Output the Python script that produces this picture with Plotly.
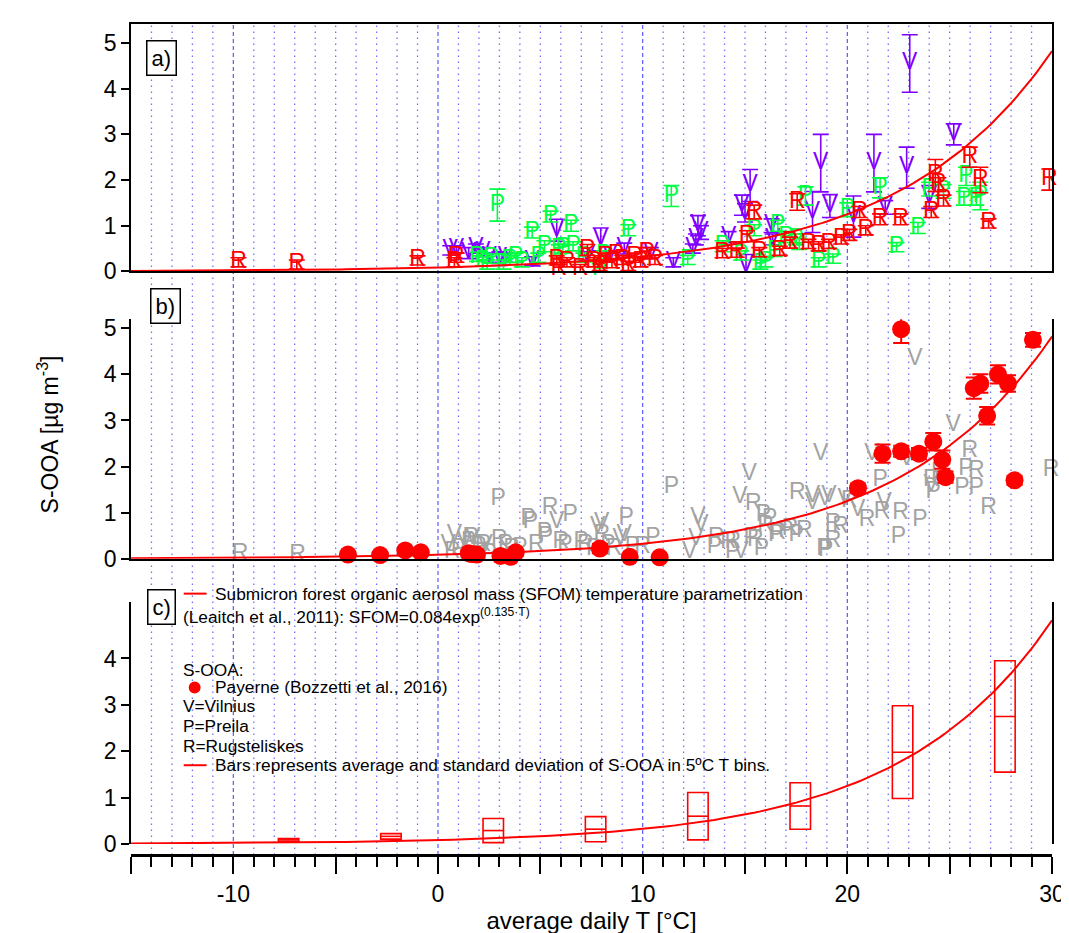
import numpy as np
import plotly.graph_objects as go

# ---------------- data ----------------
# Panel a: Vilnius (V), Preila (P), Rugsteliskes (R) S-OOA with error bars
VA_T = [0.6, 0.9, 1.5, 1.85, 2.2, 2.5, 3.0, 3.3, 4.6, 5.8, 7.3, 7.95, 8.4, 9.1, 10.4, 11.5, 12.45, 12.6, 12.7, 12.85,
        14.2, 14.85, 15.0, 15.25, 15.05, 16.3, 16.35, 18.3, 18.7, 19.15, 20.3, 21.3, 21.85, 22.9, 23.05, 24.0, 25.2]
VA_Y = [0.46, 0.48, 0.4, 0.5, 0.42, 0.3, 0.28, 0.3, 0.22, 0.9, 0.33, 0.7, 0.35, 0.5, 0.4, 0.2, 0.5, 0.7, 1.0, 0.85,
        0.75, 1.45, 1.28, 1.88, 0.12, 1.0, 0.7, 1.3, 2.37, 1.43, 1.2, 2.37, 1.4, 2.27, 4.55, 1.63, 3.0]
VA_E = [0.1, 0.08, 0.12, 0.1, 0.1, 0.1, 0.15, 0.1, 0.1, 0.24, 0.1, 0.25, 0.1, 0.12, 0.12, 0.1, 0.1, 0.12, 0.22, 0.15,
        0.12, 0.22, 0.2, 0.35, 0.25, 0.15, 0.12, 0.45, 0.63, 0.25, 0.45, 0.63, 0.15, 0.45, 0.63, 0.25, 0.23]

PA_T = [1.9, 2.2, 2.4, 2.6, 2.9, 3.2, 3.5, 3.8, 4.1, 4.6, 4.9, 5.2, 5.5, 5.9, 6.1, 6.5, 6.6, 7.1, 7.9, 8.1, 9.3,
        11.4, 12.2, 13.9, 14.8, 15.45, 15.75, 16.0, 16.45, 16.6, 17.0, 17.5, 17.65, 17.95, 18.6, 19.3, 20.0, 21.6,
        22.4, 23.45, 24.0, 24.7, 25.7, 25.8, 26.3, 26.5]
PA_Y = [0.32, 0.22, 0.15, 0.28, 1.45, 0.15, 0.25, 0.3, 0.2, 0.85, 0.3, 0.55, 1.2, 0.48, 0.5, 1.0, 0.55, 0.3, 0.05, 0.35, 0.9,
        1.65, 0.25, 0.55, 0.35, 0.9, 0.15, 0.2, 0.45, 1.0, 0.75, 0.7, 0.6, 1.65, 0.2, 0.28, 1.35, 1.83,
        0.53, 0.95, 1.8, 1.75, 1.6, 2.08, 1.6, 1.65]
PA_E = [0.1, 0.1, 0.1, 0.1, 0.35, 0.1, 0.1, 0.1, 0.1, 0.12, 0.1, 0.12, 0.12, 0.1, 0.1, 0.12, 0.1, 0.1, 0.12, 0.1, 0.12,
        0.23, 0.1, 0.12, 0.1, 0.12, 0.1, 0.1, 0.12, 0.12, 0.12, 0.12, 0.12, 0.2, 0.1, 0.1, 0.15, 0.22,
        0.1, 0.12, 0.15, 0.15, 0.15, 0.2, 0.15, 0.3]

RA_T = [-9.75, -6.9, -1.0, 0.8, 0.9, 5.8, 5.9, 6.3, 6.95, 7.3, 7.6, 7.9, 8.2, 8.5, 8.7, 9.0, 9.3, 9.6, 9.9, 10.2, 10.6,
        13.9, 14.6, 15.1, 15.45, 15.7, 16.7, 17.2, 17.55, 18.1, 18.6, 19.1, 19.7, 20.1, 20.6, 20.9, 21.6, 22.6,
        24.1, 24.3, 24.45, 24.7, 25.98, 26.5, 26.9, 29.87]
RA_Y = [0.2, 0.15, 0.24, 0.2, 0.3, 0.24, 0.05, 0.2, 0.05, 0.47, 0.2, 0.12, 0.3, 0.18, 0.35, 0.25, 0.12, 0.3, 0.2, 0.4, 0.25,
        0.4, 0.41, 0.77, 1.3, 0.42, 0.45, 0.63, 1.52, 0.6, 0.55, 0.6, 0.7, 0.8, 1.3, 0.9, 1.14, 1.14,
        1.3, 2.1, 1.9, 1.55, 2.5, 2.0, 1.05, 2.01]
RA_E = [0.1, 0.1, 0.1, 0.1, 0.1, 0.1, 0.1, 0.1, 0.1, 0.12, 0.1, 0.1, 0.1, 0.1, 0.1, 0.1, 0.1, 0.1, 0.1, 0.12, 0.1,
        0.1, 0.1, 0.12, 0.15, 0.1, 0.1, 0.12, 0.18, 0.1, 0.1, 0.1, 0.1, 0.12, 0.12, 0.1, 0.12, 0.12,
        0.12, 0.35, 0.15, 0.12, 0.22, 0.28, 0.1, 0.23]

# Panel b: grey letters (same sites) and Payerne S-OOA
VB_T = [0.5, 0.8, 1.3, 1.7, 2.3, 5.8, 7.8, 8.0, 8.9, 9.1, 12.3, 12.6, 12.7, 12.85, 14.75, 14.8, 15.2, 18.3, 18.3, 18.7,
        18.9, 19.1, 19.9, 20.5, 21.2, 21.8, 22.9, 23.3, 24.1, 25.17]
VB_Y = [0.3, 0.5, 0.35, 0.45, 0.3, 0.79, 0.69, 0.76, 0.43, 0.5, 0.14, 0.43, 0.87, 0.72, 1.33, 0.15, 1.84, 1.2, 1.35, 2.27,
        1.3, 1.35, 1.3, 1.05, 2.27, 1.2, 2.16, 4.33, 1.6, 2.89]
PB_T = [1.0, 1.5, 2.0, 2.5, 2.94, 3.3, 4.0, 4.4, 4.51, 5.2, 5.25, 6.2, 6.46, 7.0, 7.6, 8.3, 9.2, 9.5, 10.5, 11.4, 13.5,
        14.4, 15.3, 15.8, 15.9, 16.2, 16.5, 17.0, 17.5, 18.85, 18.94, 21.6, 22.5, 23.55, 24.2, 25.6, 25.8, 26.3]
PB_Y = [0.2, 0.35, 0.25, 0.1, 1.3, 0.3, 0.22, 0.86, 0.79, 0.55, 0.47, 0.3, 0.95, 0.35, 0.2, 0.3, 0.87, 0.25, 0.45, 1.55, 0.25,
        0.15, 0.45, 0.2, 0.95, 0.85, 0.5, 0.6, 0.5, 0.2, 0.18, 1.7, 0.47, 0.84, 1.45, 1.52, 1.95, 1.52]
RB_T = [-9.67, -6.86, 0.7, 1.6, 2.2, 3.0, 3.6, 4.8, 5.48, 6.0, 7.2, 8.0, 8.6, 10.0, 13.6, 14.2, 14.4, 15.4, 15.5, 16.0,
        16.6, 17.2, 17.56, 17.9, 19.3, 19.3, 19.67, 20.1, 20.96, 21.7, 22.6, 24.1, 24.5, 25.98, 26.3, 26.9, 29.95]
RB_Y = [0.1, 0.08, 0.15, 0.45, 0.3, 0.4, 0.2, 0.3, 1.1, 0.35, 0.3, 0.5, 0.2, 0.25, 0.45, 0.35, 0.35, 1.19, 0.4, 0.7,
        0.55, 0.65, 1.41, 0.6, 0.37, 0.75, 0.69, 1.24, 0.83, 1.0, 0.98, 1.7, 1.85, 2.34, 1.9, 1.1, 1.91]

PAY_T = [-4.4, -2.83, -1.6, -0.84, 1.5, 1.65, 1.9, 3.05, 3.55, 3.8, 7.91, 9.37, 10.83, 20.52, 21.72, 22.63, 22.63,
         23.5, 24.2, 24.64, 24.8, 26.18, 26.5, 26.83, 27.36, 27.85, 28.17, 29.07]
PAY_Y = [0.09, 0.08, 0.18, 0.14, 0.12, 0.1, 0.09, 0.06, 0.04, 0.14, 0.22, 0.04, 0.03, 1.53, 2.28, 2.33, 4.98,
         2.28, 2.54, 2.15, 1.77, 3.7, 3.8, 3.1, 4.0, 3.8, 1.7, 4.75]
PAY_E = [0.03, 0.03, 0.05, 0.03, 0.03, 0.03, 0.03, 0.03, 0.03, 0.03, 0.1, 0.03, 0.03, 0.1, 0.2, 0.12, 0.3,
         0.12, 0.19, 0.2, 0.12, 0.23, 0.2, 0.19, 0.2, 0.18, 0.1, 0.15]

# Panel c: 5 degC T-bin statistics
BIN_T = [-7.3, -2.3, 2.7, 7.7, 12.7, 17.7, 22.7, 27.7]
BIN_MEAN = [0.09, 0.165, 0.29, 0.32, 0.6, 0.82, 1.98, 2.75]
BIN_SD = [0.03, 0.06, 0.26, 0.27, 0.51, 0.5, 1.0, 1.2]

# SFOM parametrization (Leaitch et al., 2011)
SFOM_A = 0.084
SFOM_B = 0.135
T_RANGE = [-15, 30]

# ---------------- layout helpers ----------------
W, H = 1069, 933
ML, MR, MT, MB = 123, 20, 14, 86
PW, PH = W - ML - MR, H - MT - MB
FONT = "Liberation Sans, Arial, sans-serif"


def pxx(px):
    return (px - ML) / PW


def pxy(py):
    return (H - MB - py) / PH


V_COL, P_COL, R_COL, GREY = "#8000ff", "#00ff40", "#ff0000", "#a3a3a3"

fig = go.Figure()

T_curve = np.linspace(T_RANGE[0], T_RANGE[1], 181)
SFOM = SFOM_A * np.exp(SFOM_B * T_curve)


def letters(x, y, letter, color, xa, ya, err=None, size=23):
    kw = {}
    if err is not None:
        kw["error_y"] = dict(type="data", array=err, color=color, thickness=1.6, width=8)
    return go.Scatter(x=x, y=y, mode="text", text=[letter] * len(x), textposition="middle center",
                      textfont=dict(family=FONT, size=size, color=color), xaxis=xa, yaxis=ya,
                      showlegend=False, hoverinfo="skip", cliponaxis=False, **kw)


# panel a
fig.add_trace(letters(VA_T, VA_Y, "V", V_COL, "x", "y", VA_E))
fig.add_trace(letters(PA_T, PA_Y, "P", P_COL, "x", "y", PA_E))
fig.add_trace(letters(RA_T, RA_Y, "R", R_COL, "x", "y", RA_E))
fig.add_trace(go.Scatter(x=T_curve, y=SFOM, mode="lines", line=dict(color="red", width=2), xaxis="x", yaxis="y",
                         showlegend=False))

# panel b
fig.add_trace(letters(VB_T, VB_Y, "V", GREY, "x2", "y2", size=23))
fig.add_trace(letters(PB_T, PB_Y, "P", GREY, "x2", "y2", size=23))
fig.add_trace(letters(RB_T, RB_Y, "R", GREY, "x2", "y2", size=23))
fig.add_trace(go.Scatter(x=T_curve, y=SFOM, mode="lines", line=dict(color="red", width=2), xaxis="x2", yaxis="y2",
                         showlegend=False))
fig.add_trace(go.Scatter(x=PAY_T, y=PAY_Y, mode="markers", marker=dict(color="red", size=18),
                         error_y=dict(type="data", array=PAY_E, color="red", thickness=2, width=8),
                         xaxis="x2", yaxis="y2", showlegend=False, cliponaxis=False))

# panel c
fig.add_trace(go.Scatter(x=T_curve, y=SFOM, mode="lines", line=dict(color="red", width=2), xaxis="x3", yaxis="y3",
                         showlegend=False))
fig.add_trace(go.Bar(x=BIN_T, y=[2 * s for s in BIN_SD], base=[m - s for m, s in zip(BIN_MEAN, BIN_SD)],
                     width=1.0, marker=dict(color="rgba(0,0,0,0)", line=dict(color="red", width=1.6)),
                     xaxis="x3", yaxis="y3", showlegend=False))
fig.add_trace(go.Scatter(x=BIN_T, y=BIN_MEAN, mode="markers", marker=dict(size=1, color="red"),
                         error_x=dict(type="constant", value=0.5, width=0, thickness=1.6, color="red"),
                         xaxis="x3", yaxis="y3", showlegend=False))

# ---------------- axes ----------------
tick_font = dict(family=FONT, size=23, color="black")
common_x = dict(range=T_RANGE, showgrid=False, zeroline=False, showticklabels=False, ticks="")
fig.update_layout(
    xaxis=dict(**common_x, anchor="y", showline=True, linecolor="black", linewidth=2, mirror=True),
    xaxis2=dict(**common_x, anchor="y2", matches="x", showline=True, linecolor="black", linewidth=2),
    xaxis3=dict(range=T_RANGE, matches="x", anchor="free", position=0, showgrid=False, zeroline=False,
                showline=True, linecolor="black", linewidth=3, ticks="outside", ticklen=17, tickwidth=2,
                tickcolor="black", tickmode="array", tickvals=list(range(-15, 31, 5)),
                ticktext=[str(v) if v % 10 == 0 else " " for v in range(-15, 31, 5)],
                tickfont=tick_font,
                minor=dict(tickmode="linear", tick0=0, dtick=1, ticks="outside", ticklen=10, tickwidth=1.5,
                           tickcolor="black", showgrid=False),
                title=dict(text="average daily T [°C]", font=dict(family=FONT, size=24, color="black"), standoff=6)),
    yaxis=dict(domain=[pxy(262), 1.0], range=[0, (262 - 14) / 45.8], anchor="x", showgrid=False, zeroline=False,
               showline=True, linecolor="black", linewidth=1.5, mirror=True, ticks="outside", ticklen=8,
               tickwidth=1.5, tickcolor="black", dtick=1, tickfont=tick_font),
    yaxis2=dict(domain=[pxy(550), pxy(310)], range=[0, 240 / 46.2], anchor="x2", showgrid=False, zeroline=False,
                showline=True, linecolor="black", linewidth=1.5, mirror=True, ticks="outside", ticklen=8,
                tickwidth=1.5, tickcolor="black", dtick=1, tickfont=tick_font),
    yaxis3=dict(domain=[pxy(836), pxy(593)], range=[0, 243 / 46.5], anchor="x3", showgrid=False, zeroline=False,
                showline=True, linecolor="black", linewidth=1.5, mirror=True, ticks="outside", ticklen=8,
                tickwidth=1.5, tickcolor="black", tickmode="array", tickvals=[0, 1, 2, 3, 4], tickfont=tick_font),
)

# ---------------- grid (vertical) ----------------
shapes = []
for t in range(T_RANGE[0] + 1, T_RANGE[1]):
    major = (t % 10 == 0)
    shapes.append(dict(type="line", xref="x", yref="paper", x0=t, x1=t, y0=0, y1=1, layer="below",
                       line=dict(color="#5a5aff" if major else "#7070ff", width=1.2 if major else 1.3,
                                 dash="4px,3px" if major else "1.5px,4.5px")))

# legend decorations
shapes.append(dict(type="line", xref="paper", yref="paper", x0=pxx(176), x1=pxx(199), y0=pxy(585), y1=pxy(585),
                   line=dict(color="red", width=2)))
shapes.append(dict(type="line", xref="paper", yref="paper", x0=pxx(176), x1=pxx(199), y0=pxy(757), y1=pxy(757),
                   line=dict(color="red", width=2)))
shapes.append(dict(type="circle", xref="paper", yref="paper", x0=pxx(181), x1=pxx(193), y0=pxy(685), y1=pxy(673),
                   fillcolor="red", line=dict(color="red", width=0)))
fig.update_layout(shapes=shapes)

# ---------------- annotations ----------------
ann = []
leg_font = dict(family=FONT, size=17.3, color="black")
for txt, x, y in [
    ("Submicron forest organic aerosol mass (SFOM) temperature parametrization", 205, 585),
    ("(Leaitch et al., 2011): SFOM=0.084exp<sup>(0.135·T)</sup>", 173, 607),
    ("S-OOA:", 173, 662),
    ("Payerne (Bozzetti et al., 2016)", 205, 679),
    ("V=Vilnius", 173, 698),
    ("P=Preila", 173, 718),
    ("R=Rugsteliskes", 173, 738),
    ("Bars represents average and standard deviation of S-OOA in 5ºC T bins.", 205, 757),
]:
    ann.append(dict(text=txt, x=pxx(x), y=pxy(y), xref="paper", yref="paper", xanchor="left", yanchor="middle",
                    showarrow=False, font=leg_font))

for lab, x, y in [("a)", 154, 48), ("b)", 158, 297), ("c)", 154, 598)]:
    ann.append(dict(text=lab, x=pxx(x), y=pxy(y), xref="paper", yref="paper", xanchor="center", yanchor="middle",
                    showarrow=False, font=dict(family=FONT, size=22, color="black"), bgcolor="white",
                    bordercolor="black", borderwidth=1.5, borderpad=4))

ann.append(dict(text="S-OOA [µg m<sup>-3</sup>]", x=pxx(40), y=pxy(425), xref="paper", yref="paper",
                xanchor="center", yanchor="middle", textangle=-90, showarrow=False,
                font=dict(family=FONT, size=23, color="black")))
fig.update_layout(annotations=ann)

fig.update_layout(width=W, height=H, margin=dict(l=ML, r=MR, t=MT, b=MB), plot_bgcolor="white",
                  paper_bgcolor="white", showlegend=False, font=dict(family=FONT))

fig.write_html("out.html")
